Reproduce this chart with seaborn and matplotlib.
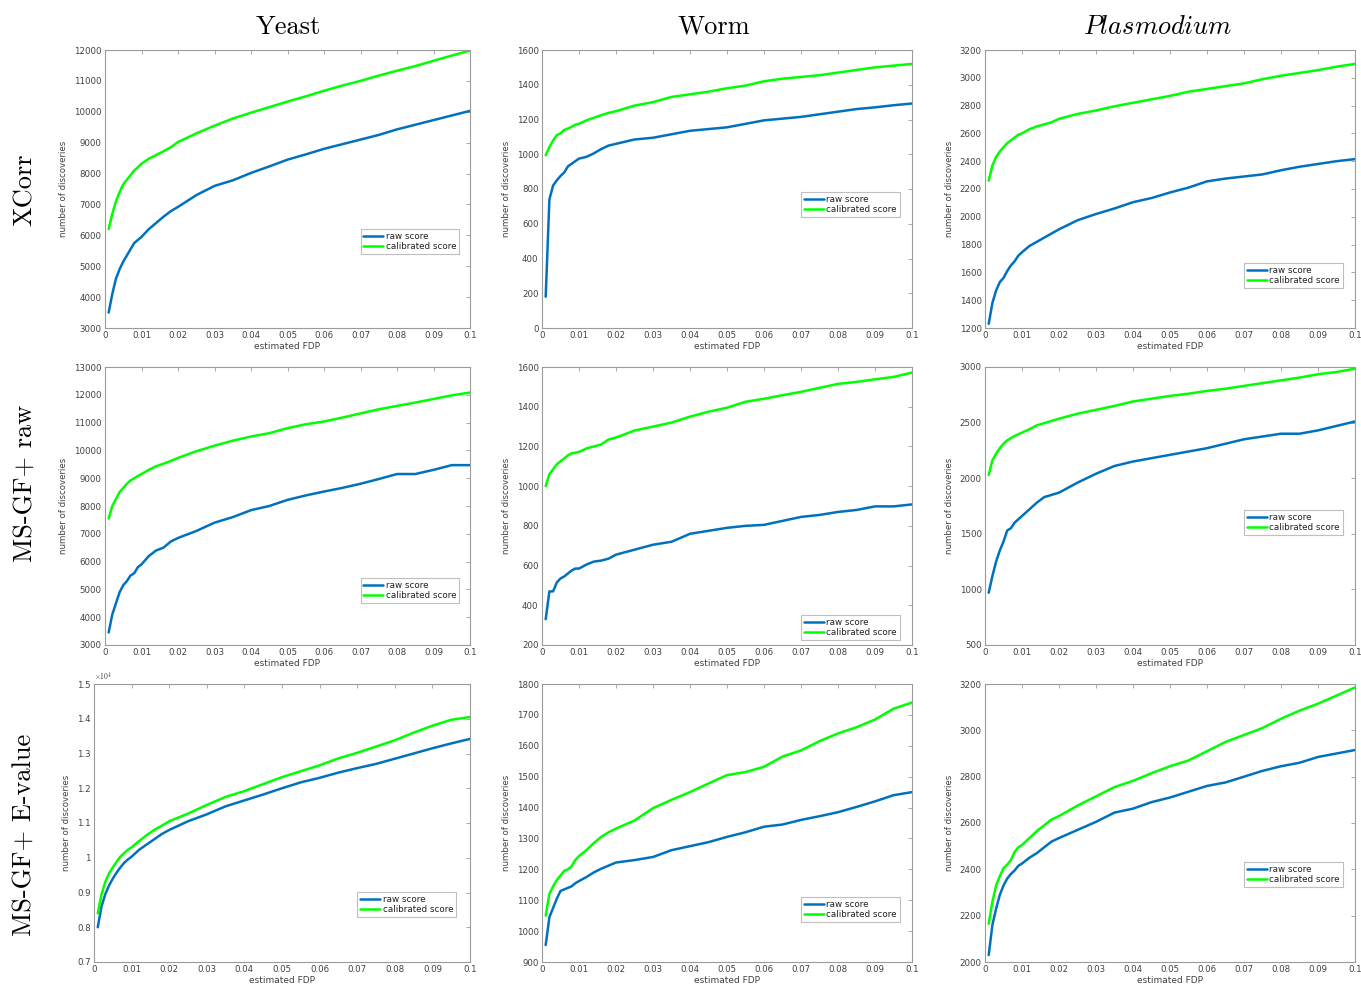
import numpy as np
import pandas as pd
import matplotlib
matplotlib.use("Agg")
import matplotlib.pyplot as plt
from matplotlib.ticker import FuncFormatter
import seaborn as sns

# Estimated FDP thresholds shared by all panels
fdp = [0.001, 0.002, 0.003, 0.004, 0.005, 0.006, 0.007, 0.008, 0.009, 0.01,
       0.012, 0.014, 0.016, 0.018, 0.02, 0.025, 0.03, 0.035, 0.04, 0.045,
       0.05, 0.055, 0.06, 0.065, 0.07, 0.075, 0.08, 0.085, 0.09, 0.095, 0.1]

species = ["Yeast", "Worm", "Plasmodium"]
methods = ["XCorr", "MS-GF+ raw", "MS-GF+ E-value"]

# XCorr
yeast_xcorr_raw = [3500, 4100, 4600, 4900, 5150, 5350, 5550, 5750, 5850, 5950,
                   6200, 6400, 6600, 6780, 6920, 7300, 7600, 7780, 8020, 8230,
                   8450, 8620, 8800, 8950, 9100, 9250, 9430, 9580, 9730, 9880, 10030]
yeast_xcorr_cal = [6200, 6700, 7100, 7400, 7650, 7800, 7950, 8100, 8200, 8320,
                   8480, 8600, 8720, 8850, 9020, 9300, 9550, 9780, 9970, 10150,
                   10330, 10500, 10680, 10850, 11000, 11170, 11330, 11480, 11650, 11820, 11980]
worm_xcorr_raw = [180, 740, 820, 850, 875, 895, 930, 945, 960, 975,
                  985, 1005, 1030, 1050, 1060, 1085, 1095, 1115, 1135, 1145,
                  1155, 1175, 1195, 1205, 1215, 1230, 1245, 1260, 1270, 1282, 1292]
worm_xcorr_cal = [995, 1040, 1080, 1110, 1120, 1140, 1148, 1158, 1170, 1175,
                  1195, 1210, 1225, 1238, 1248, 1280, 1300, 1330, 1345, 1360,
                  1380, 1395, 1420, 1435, 1445, 1455, 1470, 1485, 1500, 1510, 1520]
plasmo_xcorr_raw = [1230, 1380, 1470, 1530, 1560, 1610, 1650, 1680, 1720, 1745,
                    1790, 1820, 1850, 1880, 1910, 1975, 2020, 2060, 2105, 2135,
                    2175, 2210, 2255, 2275, 2290, 2305, 2335, 2360, 2380, 2400, 2415]
plasmo_xcorr_cal = [2260, 2370, 2430, 2470, 2500, 2530, 2550, 2570, 2590, 2600,
                    2630, 2650, 2665, 2680, 2705, 2740, 2765, 2795, 2820, 2845,
                    2870, 2900, 2920, 2940, 2960, 2990, 3015, 3035, 3055, 3080, 3100]

# MS-GF+ raw score
yeast_msgf_raw = [3450, 4100, 4500, 4900, 5150, 5300, 5500, 5580, 5800, 5900,
                  6200, 6400, 6500, 6720, 6850, 7100, 7400, 7600, 7850, 8000,
                  8220, 8380, 8520, 8650, 8800, 8970, 9150, 9150, 9300, 9470, 9470]
yeast_msgf_cal = [7550, 8000, 8250, 8500, 8650, 8800, 8920, 9000, 9080, 9150,
                  9300, 9430, 9520, 9620, 9730, 9970, 10170, 10350, 10500, 10620,
                  10800, 10940, 11040, 11180, 11330, 11480, 11600, 11720, 11850, 11980, 12080]
worm_msgf_raw = [330, 470, 470, 515, 535, 545, 560, 575, 585, 585,
                 605, 620, 625, 635, 655, 680, 705, 720, 760, 775,
                 790, 800, 805, 825, 845, 855, 870, 880, 898, 898, 908]
worm_msgf_cal = [1000, 1060, 1085, 1110, 1125, 1140, 1155, 1165, 1168, 1172,
                 1190, 1200, 1210, 1235, 1245, 1280, 1300, 1320, 1350, 1375,
                 1395, 1425, 1440, 1458, 1475, 1495, 1515, 1525, 1538, 1550, 1572]
plasmo_msgf_raw = [970, 1120, 1250, 1350, 1430, 1530, 1550, 1600, 1630, 1660,
                   1720, 1780, 1830, 1850, 1870, 1960, 2040, 2110, 2150, 2180,
                   2210, 2240, 2270, 2310, 2350, 2375, 2400, 2400, 2430, 2470, 2510]
plasmo_msgf_cal = [2030, 2160, 2220, 2270, 2310, 2340, 2360, 2380, 2395, 2410,
                   2440, 2475, 2495, 2515, 2535, 2580, 2615, 2650, 2690, 2715,
                   2740, 2760, 2785, 2805, 2830, 2855, 2880, 2905, 2935, 2955, 2985]

# MS-GF+ E-value
yeast_eval_raw = [8000, 8600, 8950, 9200, 9400, 9570, 9720, 9850, 9950, 10030,
                  10230, 10380, 10530, 10680, 10800, 11050, 11250, 11480, 11650, 11820,
                  12000, 12170, 12300, 12450, 12580, 12700, 12850, 13000, 13150, 13290, 13420]
yeast_eval_cal = [8400, 8950, 9300, 9550, 9720, 9880, 10030, 10130, 10230, 10300,
                  10480, 10650, 10800, 10920, 11050, 11270, 11520, 11750, 11920, 12120,
                  12320, 12490, 12660, 12860, 13020, 13200, 13380, 13600, 13800, 13970, 14050]
worm_eval_raw = [955, 1045, 1075, 1105, 1130, 1135, 1140, 1145, 1155, 1162,
                 1175, 1190, 1202, 1212, 1222, 1230, 1240, 1262, 1275, 1288,
                 1305, 1320, 1338, 1345, 1360, 1372, 1385, 1402, 1420, 1440, 1450]
worm_eval_cal = [1050, 1120, 1145, 1165, 1180, 1195, 1200, 1210, 1230, 1243,
                 1262, 1285, 1305, 1320, 1332, 1358, 1398, 1425, 1450, 1478,
                 1505, 1515, 1532, 1565, 1585, 1615, 1640, 1660, 1685, 1720, 1740]
plasmo_eval_raw = [2030, 2160, 2230, 2290, 2330, 2360, 2380, 2395, 2415, 2425,
                   2450, 2470, 2495, 2520, 2535, 2570, 2605, 2645, 2662, 2690,
                   2710, 2735, 2760, 2775, 2800, 2825, 2845, 2860, 2885, 2900, 2915]
plasmo_eval_cal = [2165, 2260, 2330, 2370, 2405, 2420, 2440, 2475, 2495, 2505,
                   2535, 2565, 2590, 2615, 2630, 2675, 2715, 2755, 2782, 2815,
                   2845, 2870, 2910, 2950, 2980, 3010, 3050, 3085, 3115, 3150, 3185]

raw_series = [[yeast_xcorr_raw, worm_xcorr_raw, plasmo_xcorr_raw],
              [yeast_msgf_raw, worm_msgf_raw, plasmo_msgf_raw],
              [yeast_eval_raw, worm_eval_raw, plasmo_eval_raw]]
cal_series = [[yeast_xcorr_cal, worm_xcorr_cal, plasmo_xcorr_cal],
              [yeast_msgf_cal, worm_msgf_cal, plasmo_msgf_cal],
              [yeast_eval_cal, worm_eval_cal, plasmo_eval_cal]]

# y-axis ranges and tick steps for each panel
y_ranges = [[(3000, 12000, 1000), (0, 1600, 200), (1200, 3200, 200)],
            [(3000, 13000, 1000), (200, 1600, 200), (500, 3000, 500)],
            [(7000, 15000, 1000), (900, 1800, 100), (2000, 3200, 200)]]

# legend anchor (axes fraction) for each panel
legend_pos = [[(0.70, 0.266), (0.70, 0.40), (0.70, 0.144)],
              [(0.70, 0.151), (0.70, 0.018), (0.70, 0.396)],
              [(0.70, 0.162), (0.70, 0.144), (0.70, 0.271)]]

sns.set_theme(style="white")
plt.rcParams["font.family"] = ["DejaVu Sans"]
plt.rcParams["mathtext.fontset"] = "cm"

BLUE = "#0072BD"
GREEN = "#00FF00"
AX_GREY = "#9a9a9a"
TXT_GREY = "#404040"

W, H = 1361, 986
fig = plt.figure(figsize=(W / 100, H / 100), dpi=100)
fig.patch.set_facecolor("white")

col_left = [105, 542, 985]
col_right = [470, 912, 1355]
row_top = [50, 367, 684]
ax_h = 278

for r in range(3):
    for c in range(3):
        left = col_left[c]
        if r == 2 and c == 0:
            left = 94
        ax = fig.add_axes([left / W, 1 - (row_top[r] + ax_h) / H,
                           (col_right[c] - left) / W, ax_h / H])
        df = pd.DataFrame({"fdp": fdp, "raw": raw_series[r][c], "cal": cal_series[r][c]})
        sns.lineplot(data=df, x="fdp", y="raw", ax=ax, color=BLUE, lw=1.8,
                     label="raw score")
        sns.lineplot(data=df, x="fdp", y="cal", ax=ax, color=GREEN, lw=1.8,
                     label="calibrated score")
        y0, y1, step = y_ranges[r][c]
        ax.set_xlim(0, 0.1)
        ax.set_ylim(y0, y1)
        ax.set_xticks(np.linspace(0, 0.1, 11))
        ax.set_yticks(np.arange(y0, y1 + step / 2, step))
        ax.xaxis.set_major_formatter(FuncFormatter(lambda v, p: f"{round(v, 3):g}"))
        if r == 2 and c == 0:
            ax.yaxis.set_major_formatter(FuncFormatter(lambda v, p: f"{v / 1e4:g}"))
            ax.text(0.0, 1.005, r"$\times10^4$", transform=ax.transAxes,
                    fontsize=5.5, color=TXT_GREY, ha="left", va="bottom")
        else:
            ax.yaxis.set_major_formatter(FuncFormatter(lambda v, p: f"{v:g}"))
        ax.tick_params(axis="both", which="major", direction="in", length=3,
                       width=0.6, colors=AX_GREY, labelcolor=TXT_GREY,
                       labelsize=6.2, top=True, right=True, pad=2.5)
        for s in ax.spines.values():
            s.set_color(AX_GREY)
            s.set_linewidth(0.8)
        ax.set_xlabel("estimated FDP", fontsize=6.5, color=TXT_GREY, labelpad=1)
        ax.set_ylabel("number of discoveries", fontsize=6.2, color=TXT_GREY, labelpad=4)
        lx, ly = legend_pos[r][c]
        leg = ax.legend(loc="lower left", bbox_to_anchor=(lx, ly), fontsize=6.3,
                        frameon=True, fancybox=False, edgecolor="#b0b0b0",
                        handlelength=2.3, handletextpad=0.3, borderpad=0.3,
                        labelspacing=0.15, borderaxespad=0)
        leg.get_frame().set_linewidth(0.8)
        for txt in leg.get_texts():
            txt.set_color("#202020")

# column titles (Plasmodium set in italics)
title_x = [288, 714, 1158]
for c, name in enumerate(species):
    label = rf"${name}$" if name == "Plasmodium" else name
    fam = "DejaVu Sans" if name == "Plasmodium" else "cmr10"
    fig.text(title_x[c] / W, 1 - 27 / H, label, fontsize=19, family=fam,
             ha="center", va="center", color="black")

# row labels
row_y = [190, 483, 835]
for r, name in enumerate(methods):
    fig.text(25 / W, 1 - row_y[r] / H, name, fontsize=19, family="cmr10",
             rotation=90, ha="center", va="center", color="black")

fig.savefig("out.png", dpi=100, facecolor="white")
